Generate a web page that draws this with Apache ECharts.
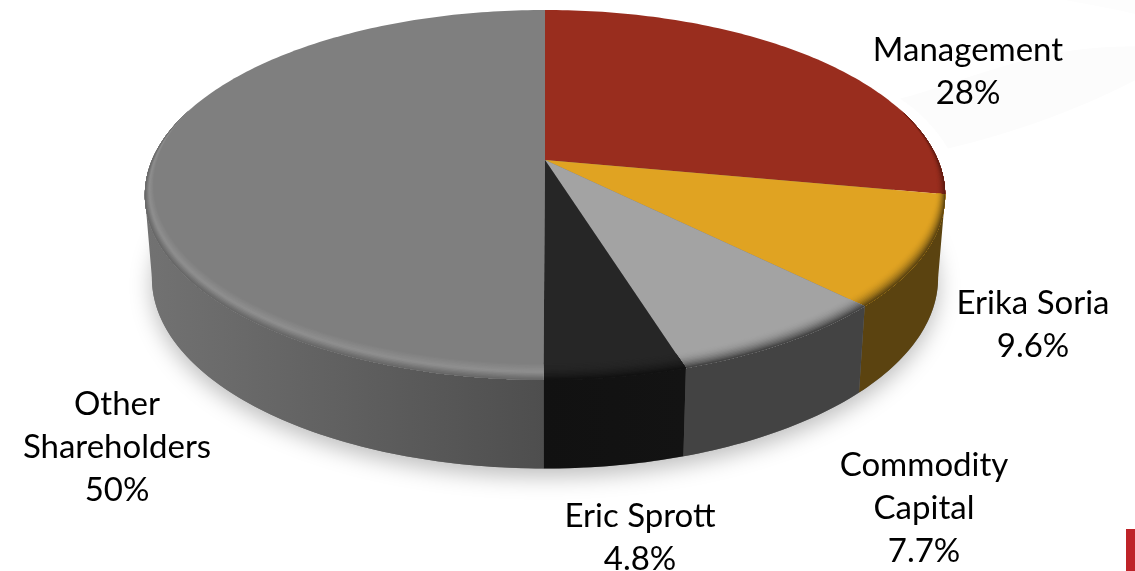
<!DOCTYPE html>
<html><head><meta charset="utf-8">
<style>html,body{margin:0;padding:0;background:#fff}#c{width:1135px;height:571px}</style>
<script src="https://cdn.jsdelivr.net/npm/echarts@6/dist/echarts.min.js"></script>
</head><body><div id="c"></div>
<script>
// data
const categories = ['Management', 'Erika Soria', 'Commodity\nCapital', 'Eric Sprott', 'Other\nShareholders'];
const shares = [28, 9.6, 7.7, 4.8, 50];
const shareLabels = ['28%', '9.6%', '7.7%', '4.8%', '50%'];

// styles
const topColors = ['#992D1E', '#E0A322', '#A3A3A3', '#262626', '#7F7F7F'];
const rimColors = [['#992D1E', '#5e1c12'], ['#E0A322', '#5f4611'], ['#A3A3A3', '#454545'], ['#262626', '#121212'], ['#7F7F7F', '#8f8f8f']];
const wallColors = [['#5a1a10', '#5a1a10'], ['#5B4310', '#5B4310'], ['#434343', '#434343'], ['#111111', '#131313'], ['#727272', '#4e4e4e']];
const labelAnchors = [[968, 50], [1033, 303], [924, 465], [640, 516], [117, 404]];

// projection of the tilted disc
const cx = 545, y0 = 160, R = 393, S = 178.4, k = 0.189;
const R2 = 386, S2 = 183.7, dy2 = 82;
const total = shares.reduce((a, b) => a + b, 0);
const rad = d => d * Math.PI / 180;
function topPt(t, f) {
  const u = Math.sin(rad(t)), v = -Math.cos(rad(t));
  const r = 1 - (f || 0) * 0.06 * Math.max(0, (v + 0.3) / 1.3);
  const w = 1 - k * r * v;
  return [cx + R * r * u / w, y0 + S * r * v / w];
}
function botPt(t) {
  const u = Math.sin(rad(t)), v = -Math.cos(rad(t));
  const w = 1 - k * v;
  return [cx + R2 * u / w, y0 + dy2 + S2 * v / w];
}
function arc(a, b, fn) {
  const pts = [], n = Math.max(2, Math.ceil(Math.abs(b - a)));
  for (let i = 0; i <= n; i++) pts.push(fn(a + (b - a) * i / n));
  return pts;
}
function mix(c1, c2, t) {
  const p = c => [1, 3, 5].map(i => parseInt(c.substr(i, 2), 16));
  const a = p(c1), b = p(c2);
  return 'rgb(' + a.map((x, i) => Math.round(x + (b[i] - x) * t)).join(',') + ')';
}
const silhouette = Math.acos(-k) * 180 / Math.PI; // angle where the disc is widest

function renderSlice(params, api) {
  const i = params.dataIndex;
  const before = shares.slice(0, i).reduce((a, b) => a + b, 0);
  const a0 = before / total * 360, a1 = a0 + api.value(0) / total * 360;
  const kids = [];
  // wall: only the part of the rim that faces the viewer
  const w0 = Math.max(a0, silhouette), w1 = Math.min(a1, 360 - silhouette);
  if (w1 > w0) {
    const pts = arc(w0, w1, t => topPt(t)).concat(arc(w1, w0, botPt));
    const xs = pts.map(p => p[0]);
    kids.push({ type: 'polygon', shape: { points: pts }, style: {
      fill: new echarts.graphic.LinearGradient(Math.min(...xs), 0, Math.max(...xs), 0,
        [{ offset: 0, color: wallColors[i][0] }, { offset: 1, color: wallColors[i][1] }], true) } });
  }
  // top face
  kids.push({ type: 'polygon', shape: { points: [[cx, y0]].concat(arc(a0, a1, t => topPt(t))) }, style: { fill: topColors[i] } });
  // bevelled edge
  const N = 12;
  for (let s = 0; s < N; s++) {
    const f = 1 - s / N, q = (s + 1) / N;
    let col;
    if (i === 4) col = q < 0.55 ? mix(rimColors[i][0], rimColors[i][1], q / 0.55) : mix(rimColors[i][1], '#686868', (q - 0.55) / 0.45);
    else col = mix(rimColors[i][0], rimColors[i][1], q * q);
    const pts = arc(a0, a1, t => topPt(t, f)).concat(arc(a1, a0, t => topPt(t)));
    kids.push({ type: 'polygon', shape: { points: pts }, style: { fill: col } });
  }
  // label
  categories[i].split('\n').concat(shareLabels[i]).forEach((line, n) => {
    kids.push({ type: 'text', z2: 50, style: {
      text: line, x: labelAnchors[i][0], y: labelAnchors[i][1] + n * 43,
      align: 'center', verticalAlign: 'middle', fill: '#000',
      font: '33px Lato, "Open Sans", sans-serif' } });
  });
  return { type: 'group', children: kids };
}
function renderBase() {
  return { type: 'group', children: [
    { type: 'path', shape: { pathData: 'M900 100 C960 85 1040 45 1135 48 L1135 82 C1070 115 1010 135 948 150 C935 128 918 112 900 100 Z', x: 900, y: 45, width: 235, height: 105 }, style: { fill: '#fcfcfc' } },
    { type: 'path', shape: { pathData: 'M1065 0 L1135 0 L1135 14 C1110 8 1085 4 1065 0 Z', x: 1065, y: 0, width: 70, height: 14 }, style: { fill: '#fdfdfd' } },
    { type: 'polygon', shape: { points: arc(0, 360, botPt) }, style: {
      fill: '#777', shadowColor: 'rgba(0,0,0,0.26)', shadowBlur: 22, shadowOffsetY: 8 } }
  ] };
}

const chart = echarts.init(document.getElementById('c'), null, { renderer: 'canvas' });
chart.setOption({
  animation: false,
  backgroundColor: '#fff',
  graphic: [
    { type: 'rect', z: 5, silent: true, shape: { x: 1126, y: 529, width: 9, height: 42 }, style: { fill: '#BE2328' } }
  ],
  series: [
    { type: 'custom', coordinateSystem: 'none', silent: true, z: 1, data: [[total]], renderItem: renderBase },
    { type: 'custom', coordinateSystem: 'none', silent: true, z: 2,
      data: categories.map((name, i) => ({ name, value: [shares[i]] })), renderItem: renderSlice }
  ]
});
</script></body></html>
